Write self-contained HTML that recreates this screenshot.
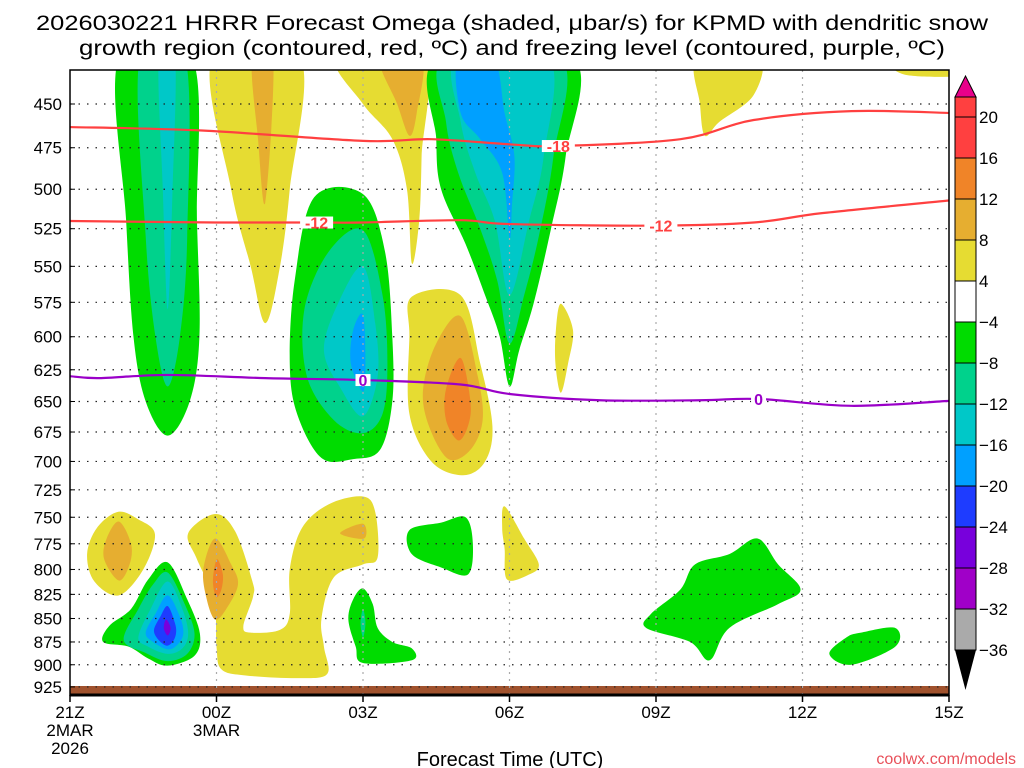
<!DOCTYPE html>
<html><head><meta charset="utf-8"><style>
html,body{margin:0;padding:0;background:#fff;}
svg{display:block;font-family:"Liberation Sans",sans-serif;}
</style></head><body>
<svg id="chart" width="1024" height="768" viewBox="0 0 1024 768" xmlns="http://www.w3.org/2000/svg">
<rect width="1024" height="768" fill="#fff"/>
<text x="512" y="30" font-size="21" text-anchor="middle" textLength="952" lengthAdjust="spacingAndGlyphs">2026030221 HRRR Forecast Omega (shaded, μbar/s) for KPMD with dendritic snow</text>
<text x="512" y="55" font-size="21" text-anchor="middle" textLength="866" lengthAdjust="spacingAndGlyphs">growth region (contoured, red, ºC) and freezing level (contoured, purple, ºC)</text>
<defs><clipPath id="plotclip"><rect x="70" y="70" width="879" height="625"/></clipPath></defs>
<g id="shading" clip-path="url(#plotclip)"></g>
<g id="grid"></g>
<g id="lines" clip-path="url(#plotclip)"></g>
<g id="axes"></g>
<g id="colorbar"></g>
<text x="510" y="766" font-size="20" text-anchor="middle">Forecast Time (UTC)</text>
<text x="1016" y="764" font-size="16" text-anchor="end" fill="#e8505a">coolwx.com/models</text>
</svg>
<script>
// ---- data ----
const pressureTicks = [450,475,500,525,550,575,600,625,650,675,700,725,750,775,800,825,850,875,900,925];
const timeTickHours = [0,3,6,9,12,15,18];
const timeTickLabels = ["21Z","00Z","03Z","06Z","09Z","12Z","15Z"];
const levelColors = {y:"#e6dc32",o1:"#e6ae30",o2:"#f08428",g:"#00dc00",t:"#00d28c",c:"#00c8c8",s:"#00a0ff",b:"#1e3cff",p:"#7800dc"};
const cbLabels = ["20","16","12","8","4","−4","−8","−12","−16","−20","−24","−28","−32","−36"];
const cbColors = ["#ff4040","#f08428","#e6ae30","#e6dc32","#ffffff","#00dc00","#00d28c","#00c8c8","#00a0ff","#1e3cff","#7800dc","#a000c8","#aaaaaa"];
// contours: [hour, hPa]
const colA_g=[[1.0,425],[2.5,425],[2.6,520],[2.65,600],[2.45,650],[2.0,678],[1.55,650],[1.3,600],[1.15,520]];
const colA_t=[[1.43,425],[2.36,425],[2.4,530],[2.25,600],[2.0,638],[1.75,600],[1.55,530]];
const colA_c=[[1.82,425],[2.15,425],[2.1,500],[2.0,580],[1.9,500]];
const wedgeB_y=[[2.92,425],[4.71,425],[4.5,500],[4.3,550],[4.0,590],[3.7,550],[3.3,500]];
const wedgeB_o=[[3.73,425],[4.16,425],[4.0,508],[3.85,470]];
const diagC_y=[[5.47,425],[7.23,425],[7.2,480],[7.15,520],[7.0,548],[6.9,500],[6.6,470],[6.0,450]];
const diagC_o=[[6.35,425],[7.2,425],[7.1,455],[6.95,468],[6.7,450]];
const blobD_g=[[6.0,503],[6.45,540],[6.6,600],[6.6,650],[6.35,690],[5.8,698],[5.15,697],[4.65,660],[4.5,620],[4.6,560],[5.0,505]];
const blobD_t=[[6.0,526],[6.4,570],[6.5,620],[6.4,660],[6.0,676],[5.4,665],[4.85,630],[4.8,580],[5.3,540]];
const blobD_c=[[6.0,550],[6.25,590],[6.3,630],[6.0,662],[5.55,640],[5.2,610],[5.5,575]];
const blobD_s=[[6.0,584],[6.05,620],[6.0,642],[5.75,620],[5.8,595]];
const blobE_y=[[7.0,571],[8.0,570],[8.4,620],[8.65,670],[8.5,700],[8.05,712],[7.4,700],[6.95,660],[6.95,600]];
const blobE_o1=[[8.0,585],[8.35,630],[8.45,665],[8.2,690],[7.75,698],[7.35,670],[7.23,640],[7.5,605]];
const blobE_o2=[[8.0,616],[8.2,650],[8.15,670],[7.95,682],[7.7,665],[7.7,640]];
const colF_g=[[7.52,425],[10.29,425],[10.15,480],[9.85,525],[9.5,575],[9.2,610],[9.0,638],[8.8,600],[8.5,570],[8.1,535],[7.6,500],[7.5,470]];
const colF_t=[[7.68,425],[10.04,425],[9.9,480],[9.6,530],[9.3,570],[9.0,605],[8.75,560],[8.4,525],[7.95,490],[7.7,460]];
const colF_c=[[7.93,425],[9.8,425],[9.7,480],[9.4,520],[9.0,570],[8.7,520],[8.3,490],[8.0,460]];
const colF_s=[[7.95,425],[8.67,425],[8.9,455],[9.1,480],[9.05,510],[9.0,531],[8.85,490],[8.4,470],[8.0,455]];
const smallG_y=[[10.05,576],[10.3,595],[10.2,620],[10.05,643],[9.94,620],[9.95,595]];
const topH_y=[[12.85,425],[14.1,425],[14.0,445],[13.3,460],[13.0,468],[12.9,450]];
const topH2_y=[[16.9,425],[18.5,425],[18.5,434],[17.1,434]];
const blobI_y=[[0.98,745],[1.4,752],[1.74,766],[1.5,800],[1.0,826],[0.5,812],[0.35,785],[0.55,760]];
const blobI_o=[[1.0,754],[1.25,775],[1.22,795],[1.0,811],[0.7,790],[0.75,770]];
const blobJ_g=[[2.0,793],[2.4,830],[2.66,866],[2.55,890],[2.0,901],[1.6,893],[1.2,880],[0.68,875],[0.8,858],[1.25,840],[1.6,810]];
const blobJ_t=[[2.0,803],[2.35,835],[2.55,866],[2.4,888],[2.0,896],[1.55,887],[1.1,873],[1.4,840],[1.7,815]];
const blobJ_c=[[2.0,812],[2.3,840],[2.42,866],[2.3,882],[2.0,888],[1.6,880],[1.4,870],[1.65,840]];
const blobJ_s=[[2.0,826],[2.25,848],[2.32,866],[2.2,878],[2.0,883],[1.7,875],[1.55,865],[1.75,845]];
const blobJ_b=[[2.0,837],[2.15,855],[2.17,866],[2.1,875],[1.97,879],[1.8,872],[1.72,862],[1.85,848]];
const blobJ_p=[[1.97,851],[2.06,860],[2.0,868],[1.92,860]];
const blobK_y=[[2.97,747],[3.38,763],[3.73,811],[3.75,827],[3.55,858],[3.7,865],[4.3,862],[4.5,845],[4.5,800],[4.75,760],[5.3,738],[6.0,731],[6.25,745],[6.3,788],[6.0,795],[5.4,808],[5.15,850],[5.2,880],[5.27,910],[4.7,915],[3.6,912],[3.1,905],[3.0,880],[2.95,830],[2.6,790],[2.42,765]];
const blobK_o=[[2.97,770],[3.3,795],[3.44,815],[3.2,840],[2.97,851],[2.8,830],[2.73,800]];
const blobK_o2=[[3.02,790],[3.13,805],[3.1,820],[3.0,828],[2.93,815],[2.95,800]];
const blobK_o3=[[5.53,765],[6.0,756],[6.02,770]];
const blobL_g=[[6.0,819],[6.2,835],[6.3,860],[6.6,875],[7.0,882],[7.0,895],[6.0,898],[5.85,880],[5.7,851],[5.8,830]];
const blobL_t=[[6.0,840],[6.05,855],[6.0,870],[5.95,855]];
const blobM_g=[[6.95,762],[7.6,755],[8.1,750],[8.25,775],[8.15,805],[7.6,798],[7.0,785]];
const blobN_y=[[8.9,740],[9.3,770],[9.6,795],[9.4,805],[8.95,810],[8.9,780],[8.85,760]];
const blobO_g=[[14.08,770],[14.5,795],[14.96,820],[14.5,835],[13.5,860],[13.1,895],[12.7,875],[11.8,860],[11.9,845],[12.5,820],[12.8,795],[13.5,785]];
const blobP_g=[[16.2,865],[16.9,860],[16.9,880],[16.0,900],[15.55,888],[15.9,870]];
const omegaContours=[["y",wedgeB_y],["o1",wedgeB_o],["y",diagC_y],["o1",diagC_o],["y",topH_y],["y",topH2_y],["y",smallG_y],
 ["g",colA_g],["t",colA_t],["c",colA_c],["g",colF_g],["t",colF_t],["c",colF_c],["s",colF_s],
 ["g",blobD_g],["t",blobD_t],["c",blobD_c],["s",blobD_s],["y",blobE_y],["o1",blobE_o1],["o2",blobE_o2],
 ["y",blobI_y],["o1",blobI_o],["y",blobK_y],["o1",blobK_o],["o2",blobK_o2],["o1",blobK_o3],
 ["g",blobJ_g],["t",blobJ_t],["c",blobJ_c],["s",blobJ_s],["b",blobJ_b],["p",blobJ_p],
 ["g",blobL_g],["t",blobL_t],["g",blobM_g],["y",blobN_y],["g",blobO_g],["g",blobP_g]];
const isoM18Hours=[0,2.7,6,7.4,9,10,12.5,14,16,18];
const isoM18Press=[463,465,471,470,473,474,470,459,454,455];
const isoM12Hours=[0,3,5,6,8,9,12,14,15.4,18];
const isoM12Press=[520,521,521,521,519.5,522,523,521,515,507];
const iso0Hours=[0,0.6,2,4,6,8,9,10.85,12.9,14.1,16,18];
const iso0Press=[630,631.5,629,631.5,633,636.5,644,649,649,648,653.5,649.5];
// ---- scales ----
const X0=70,X1=949,PT=70,PB=695;
function xs(h){return X0+h*(X1-X0)/18;}
function ys(p){return 104+809*Math.log(p/450);}
const NS="http://www.w3.org/2000/svg";
function mk(tag,attrs,parent){const e=document.createElementNS(NS,tag);for(const k in attrs)e.setAttribute(k,attrs[k]);parent.appendChild(e);return e;}
function smooth(pts){const n=pts.length;let d=`M${pts[0][0]},${pts[0][1]}`;for(let i=0;i<n;i++){const p0=pts[(i-1+n)%n],p1=pts[i],p2=pts[(i+1)%n],p3=pts[(i+2)%n];const c1=[p1[0]+(p2[0]-p0[0])/6,p1[1]+(p2[1]-p0[1])/6],c2=[p2[0]-(p3[0]-p1[0])/6,p2[1]-(p3[1]-p1[1])/6];d+=`C${c1[0]},${c1[1]} ${c2[0]},${c2[1]} ${p2[0]},${p2[1]}`;}return d+"Z";}
function smoothOpen(pts){let d=`M${pts[0][0]},${pts[0][1]}`;const n=pts.length;for(let i=0;i<n-1;i++){const p0=pts[Math.max(i-1,0)],p1=pts[i],p2=pts[i+1],p3=pts[Math.min(i+2,n-1)];const c1=[p1[0]+(p2[0]-p0[0])/6,p1[1]+(p2[1]-p0[1])/6],c2=[p2[0]-(p3[0]-p1[0])/6,p2[1]-(p3[1]-p1[1])/6];d+=`C${c1[0]},${c1[1]} ${c2[0]},${c2[1]} ${p2[0]},${p2[1]}`;}return d;}
const shade=document.getElementById('shading');
omegaContours.forEach(([lev,pts],i)=>{
 const pp=pts.map(([h,p])=>[xs(h),ys(p)]);
 const e=mk('path',{d:smooth(pp),fill:levelColors[lev]},shade);
 
 
});
// ground
const gnd=mk('rect',{x:X0,y:686,width:X1-X0,height:9,fill:"#a0522d"},shade);


// grid
const grid=document.getElementById('grid');
pressureTicks.forEach(p=>{const e=mk('line',{x1:X0,x2:X1,y1:ys(p),y2:ys(p),stroke:"#222","stroke-width":1.2,"stroke-dasharray":"1.5 7"},grid);
 
 });
timeTickHours.slice(1,-1).forEach(h=>{const e=mk('line',{x1:xs(h),x2:xs(h),y1:PT,y2:PB,stroke:"#aaa","stroke-width":1.2,"stroke-dasharray":"2 5"},grid);
 
 });
// lines
const lg=document.getElementById('lines');
function drawLine(hs,ps,col,name,labels,txt){
 const e=mk('path',{d:smoothOpen(hs.map((h,i)=>[xs(h),ys(ps[i])])),fill:'none',stroke:col,'stroke-width':2.2},lg);
 
 
 labels.forEach(h=>{let k=0;while(k<hs.length-2&&hs[k+1]<h)k++;const f=(h-hs[k])/(hs[k+1]-hs[k]);const p=ps[k]+f*(ps[k+1]-ps[k]);
  const w=txt.length*9+6;
  const bg=mk('rect',{x:xs(h)-w/2,y:ys(p)-6,width:w,height:12,fill:'#ffffff'},lg);
  
  
  const t=mk('text',{x:xs(h),y:ys(p)+6,'font-size':16,'font-weight':'bold','text-anchor':'middle',fill:col},lg);t.textContent=txt;
  
  });
}
drawLine(isoM18Hours,isoM18Press,"#ff4040","isotherm-minus18",[10],"-18");
drawLine(isoM12Hours,isoM12Press,"#ff4040","isotherm-minus12",[5.05,12.1],"-12");
drawLine(iso0Hours,iso0Press,"#9a00c8","freezing-level",[6,14.1],"0");
// axes
const ax=document.getElementById('axes');
mk('rect',{x:X0,y:PT,width:X1-X0,height:PB-PT,fill:'none',stroke:'#000','stroke-width':1.5},ax);
mk('line',{x1:X0,x2:X1,y1:PB,y2:PB,stroke:'#000','stroke-width':3},ax);
pressureTicks.forEach(p=>{const t=mk('text',{x:62,y:ys(p)+6,'font-size':17,'text-anchor':'end'},ax);t.textContent=p;
 
 
 mk('line',{x1:X0,x2:X0+5,y1:ys(p),y2:ys(p),stroke:'#000'},ax);});
timeTickHours.forEach((h,i)=>{const t=mk('text',{x:xs(h),y:718,'font-size':17,'text-anchor':'middle'},ax);t.textContent=timeTickLabels[i];
 
 
 mk('line',{x1:xs(h),x2:xs(h),y1:PB,y2:PB+7,stroke:'#000','stroke-width':1.5},ax);});
[["2MAR",0,736],["2026",0,754],["3MAR",3,736]].forEach(([s,h,y])=>{const t=mk('text',{x:xs(h),y:y,'font-size':17,'text-anchor':'middle'},ax);t.textContent=s;
 
 });
// colorbar
const cb=document.getElementById('colorbar');
const CBX=955,CBW=21,CBT=117,CBS=41;
mk('polygon',{points:`${CBX},${CBT-20} ${CBX+CBW},${CBT-20} ${CBX+CBW/2},76`,fill:'#e8008a',stroke:'#000'},cb);
cbColors.forEach((c,i)=>{const r=mk('rect',{x:CBX,y:CBT+i*CBS,width:CBW,height:CBS,fill:c,stroke:'#000','stroke-width':1},cb);
 
 });
mk('rect',{x:CBX,y:CBT-20,width:CBW,height:20,fill:'#ff4040',stroke:'#000'},cb);
const cbBot=CBT+cbColors.length*CBS;
mk('polygon',{points:`${CBX},${cbBot} ${CBX+CBW},${cbBot} ${CBX+CBW/2},${cbBot+40}`,fill:'#000'},cb);
cbLabels.forEach((s,i)=>{const t=mk('text',{x:979,y:CBT+i*CBS+6,'font-size':17},cb);t.textContent=s;
 
 });
</script>
</body></html>
